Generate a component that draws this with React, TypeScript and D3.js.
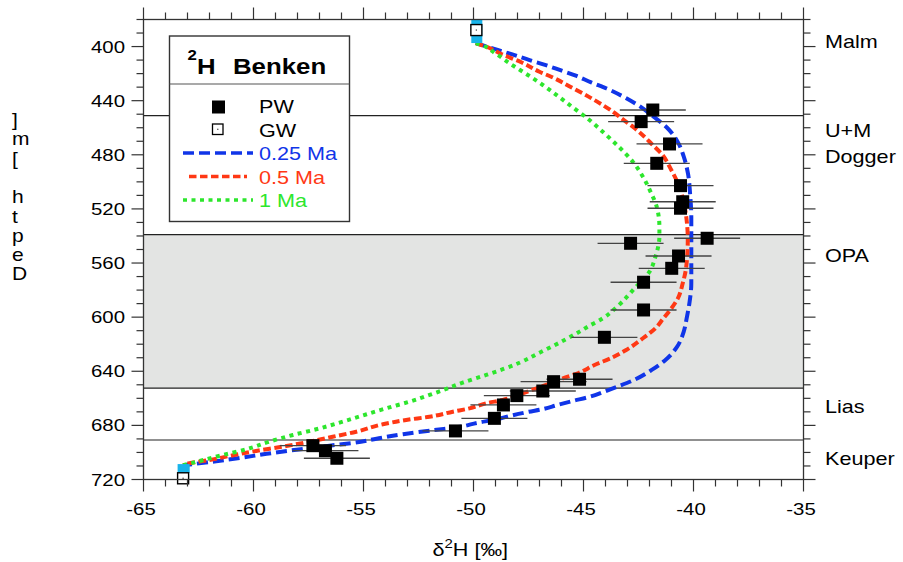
import * as d3 from "d3";

// depth [m] / delta 2H [permil]
const pwDepth = [446.9, 455.5, 472, 486.3, 502.8, 514.7, 519.5, 541.7, 545.4, 554.8, 563.9, 574.2, 594.7, 614.9, 645.9, 647.7, 654.6, 658, 664.9, 674.8, 684.1, 695, 698.7, 704.3];
const pwDelta = [-41.85, -42.38, -41.09, -41.67, -40.59, -40.49, -40.59, -39.38, -42.86, -40.68, -40.99, -42.27, -42.27, -44.05, -45.18, -46.36, -46.85, -48.03, -48.64, -49.05, -50.82, -57.3, -56.73, -56.21];
const PW_ERR = 1.5;

const gwDepth = [387.8, 719.1];
const gwDelta = [-49.87, -63.2];

// boundary condition boxes [depth0, depth1, delta0, delta1]
const bcBoxes = [
  [380, 397.4, -50.1, -49.6],
  [708.6, 715.2, -63.45, -62.9],
];

const curve025 = [
  [397.5, -49.9], [402.5, -48.9], [406, -48.2], [410, -47.45], [413.5, -46.75], [417.5, -46.05],
  [421.5, -45.35], [426.5, -44.65], [431, -43.95], [436.5, -43.25], [443, -42.55], [452, -41.8],
  [460, -41.2], [471, -40.7], [481, -40.45], [494, -40.25], [510, -40.15], [526, -40.1], [543, -40.1],
  [575, -40.1], [589, -40.18], [600, -40.3], [611, -40.45], [622, -40.75], [632, -41.3], [639, -41.9],
  [646, -42.65], [651, -43.4], [655, -44.05], [659, -44.75], [662, -45.5], [665, -46.2], [668, -46.85],
  [670, -47.5], [673, -48.35], [676, -49.1], [678, -49.8], [681, -50.6], [683.5, -51.8], [686.5, -53.2],
  [689.5, -54.3], [693, -55.5], [695, -56.55], [698, -58.05], [701, -59.4], [704, -60.6], [706.5, -61.7],
  [709.5, -63.2],
];

const curve05 = [
  [397.5, -49.9], [400.1, -49.42], [405.5, -48.74], [411.6, -47.83], [418.6, -47], [422.3, -46.47],
  [430.1, -45.56], [438.8, -44.58], [448.1, -43.67], [453.8, -43.21], [459.2, -42.76], [466.6, -42.23],
  [472.8, -41.85], [478.9, -41.47], [491.2, -41.01], [501.1, -40.71], [525.8, -40.33], [543, -40.26],
  [562.7, -40.33], [575, -40.49], [586.1, -40.71], [594.7, -41.06], [601.6, -41.4], [608.2, -41.73],
  [615.6, -42.3], [624.3, -43.06], [629.7, -43.67], [635.4, -44.5], [641.5, -45.26], [645.2, -45.94],
  [650.1, -46.7], [656.3, -47.76], [661.2, -48.67], [663.7, -49.42], [667.4, -50.18], [669.9, -50.94],
  [673.6, -52], [676, -53.06], [679.2, -54.12], [684.7, -55.33], [688.4, -56.4], [692.5, -57.6],
  [695.7, -58.67], [698.9, -59.88], [702.6, -61.09], [705.6, -62], [708, -62.91], [709.5, -63.2],
];

const curve1 = [
  [397.5, -49.9], [398.8, -49.65], [405.5, -48.97], [413.1, -48.29], [421, -47.53], [428.4, -46.85],
  [436.5, -46.17], [444.9, -45.49], [454.3, -44.73], [464.1, -44.05], [474, -43.4], [485.1, -42.76],
  [496.2, -42.3], [508.5, -41.92], [518.4, -41.67], [533.1, -41.55], [540.5, -41.55], [555.3, -41.73],
  [566.4, -42], [578.7, -42.68], [591.8, -43.44], [600.8, -44.12], [607, -44.8], [610.7, -45.18],
  [616.9, -45.86], [626.3, -47], [633.7, -47.91], [638.5, -48.67], [642.7, -49.42], [648.4, -50.49],
  [652.6, -51.17], [657.5, -52], [662.5, -52.91], [667.4, -53.97], [673, -55.1], [678, -56.09],
  [682.9, -57.15], [687.1, -58.21], [692, -59.27], [697.7, -60.33], [701.9, -61.4], [706.3, -62.45],
  [709.5, -63.2],
];

const formationLines = [451, 690.8];
const opaBand = [539, 652.4];
const formationLabels = [
  { name: "Malm", depth: 396.6 },
  { name: "U+M", depth: 461.7 },
  { name: "Dogger", depth: 481.6 },
  { name: "OPA", depth: 554.8 },
  { name: "Lias", depth: 666.4 },
  { name: "Keuper", depth: 704.8 },
];

const xTicks = [-65, -60, -55, -50, -45, -40, -35];
const yTicks = [400, 440, 480, 520, 560, 600, 640, 680, 720];

const series = [
  { label: "0.25 Ma", data: curve025, color: "#1035e8", dash: "11,5" },
  { label: "0.5 Ma", data: curve05, color: "#ff3814", dash: "7.5,3.5" },
  { label: "1 Ma", data: curve1, color: "#2de62d", dash: "4,4.5" },
];

const FONT = "'Liberation Sans', Arial, Helvetica, sans-serif";
const SX = 1.2; // the original lettering is a bit wide

function T({ x, y, size, anchor = "start", fill = "#000", weight = "normal", children }: any) {
  return (
    <text transform={`translate(${x},${y}) scale(${SX},1)`} fontSize={size} textAnchor={anchor} fill={fill} fontWeight={weight}>
      {children}
    </text>
  );
}

export default function App() {
  const W = 903, H = 562;
  const x = d3.scaleLinear().domain([-65, -35]).range([143.5, 803.5]);
  const y = d3.scaleLinear().domain([380, 720]).range([19.5, 479.5]);
  const [x0, x1] = x.range();
  const [y0, y1] = y.range();

  const line = d3
    .line<number[]>()
    .x((d) => x(d[1]))
    .y((d) => y(d[0]))
    .curve(d3.curveMonotoneY);

  const xMinor = d3.range(-65, -34, 1);
  const yMinor = d3.range(380, 721, 10);
  const depthLetters = ["]", "m", "[", "", "h", "t", "p", "e", "D"];

  return (
    <svg width={W} height={H} style={{ position: "absolute", left: 0, top: 0, background: "#fff" }} fontFamily={FONT}>
      {/* OPA band */}
      <rect x={x0} y={y(opaBand[0])} width={x1 - x0} height={y(opaBand[1]) - y(opaBand[0])} fill="#e3e4e3" />
      {[opaBand[0], opaBand[1], ...formationLines].map((d, i) => (
        <line key={i} x1={x0} x2={x1} y1={y(d)} y2={y(d)} stroke="#222" strokeWidth={1.2} />
      ))}

      {/* model curves */}
      {series.map((s) => (
        <path key={s.label} d={line(s.data) || ""} fill="none" stroke={s.color} strokeWidth={4} strokeDasharray={s.dash} />
      ))}

      {bcBoxes.map((b, i) => (
        <rect key={i} x={x(b[2])} y={y(b[0])} width={x(b[3]) - x(b[2])} height={y(b[1]) - y(b[0])} fill="#18b4ea" />
      ))}

      {/* PW data */}
      {pwDepth.map((d, i) => (
        <line key={"e" + i} x1={x(pwDelta[i] - PW_ERR)} x2={x(pwDelta[i] + PW_ERR)} y1={y(d)} y2={y(d)} stroke="#444" strokeWidth={1.3} />
      ))}
      {pwDepth.map((d, i) => (
        <rect key={"p" + i} x={x(pwDelta[i]) - 6.5} y={y(d) - 6.5} width={13} height={13} fill="#000" />
      ))}
      {gwDepth.map((d, i) => (
        <g key={"g" + i}>
          <rect x={x(gwDelta[i]) - 5.5} y={y(d) - 5.5} width={11} height={11} fill="#fff" stroke="#000" strokeWidth={1.4} />
          <rect x={x(gwDelta[i]) - 0.6} y={y(d) - 0.6} width={1.2} height={1.2} fill="#333" />
        </g>
      ))}

      {/* frame */}
      <rect x={x0} y={y0} width={x1 - x0} height={y1 - y0} fill="none" stroke="#333" strokeWidth={1.3} />
      {xMinor.map((v) => {
        const len = xTicks.includes(v) ? 12 : 7;
        return (
          <g key={"xt" + v}>
            <line x1={x(v)} x2={x(v)} y1={y1} y2={y1 + len} stroke="#333" strokeWidth={1.2} />
            <line x1={x(v)} x2={x(v)} y1={y0} y2={y0 - len} stroke="#333" strokeWidth={1.2} />
          </g>
        );
      })}
      {yMinor.map((v) => {
        const len = yTicks.includes(v) ? 12 : 7;
        return (
          <g key={"yt" + v}>
            <line x1={x0} x2={x0 - len} y1={y(v)} y2={y(v)} stroke="#333" strokeWidth={1.2} />
            <line x1={x1} x2={x1 + len} y1={y(v)} y2={y(v)} stroke="#333" strokeWidth={1.2} />
          </g>
        );
      })}
      {xTicks.map((v) => (
        <T key={"xl" + v} x={x(v) - 2.5} y={y1 + 35} size={17} anchor="middle">
          {v}
        </T>
      ))}
      {yTicks.map((v) => (
        <T key={"yl" + v} x={125} y={y(v) + 6} size={17} anchor="end">
          {v}
        </T>
      ))}

      {/* axis titles */}
      <T x={472} y={556} size={18}>
        <tspan textAnchor="start" x={-33}>δ</tspan>
        <tspan dy={-8} fontSize={12.5}>2</tspan>
        <tspan dy={8}>H [‰]</tspan>
      </T>
      {depthLetters.map((c, i) => (
        <T key={"dl" + i} x={12} y={126 + i * 19.3} size={17.5}>
          {c}
        </T>
      ))}

      {/* formation labels */}
      {formationLabels.map((f) => (
        <T key={f.name} x={825} y={y(f.depth) + 6.5} size={18}>
          {f.name}
        </T>
      ))}

      {/* legend */}
      <rect x={169.5} y={36} width={180} height={185.5} fill="#fff" stroke="#333" strokeWidth={1.4} />
      <line x1={169.5} x2={349.5} y1={84} y2={84} stroke="#555" strokeWidth={1.2} />
      <T x={187.5} y={60} size={14} weight="bold">2</T>
      <T x={197} y={73.5} size={21.5} weight="bold">H</T>
      <T x={233} y={73.5} size={21.5} weight="bold">Benken</T>
      <rect x={212} y={100.5} width={13} height={13} fill="#000" />
      <T x={259} y={113} size={18}>PW</T>
      <rect x={212.5} y={124} width={10.5} height={10.5} fill="#fff" stroke="#000" strokeWidth={1.3} />
      <rect x={217.2} y={128.7} width={1.2} height={1.2} fill="#333" />
      <T x={259} y={136.5} size={18}>GW</T>
      {series.map((s, i) => (
        <g key={"lg" + s.label}>
          <line x1={i === 1 ? 189 : 183} x2={i === 1 ? 247 : 253} y1={153 + i * 23.5} y2={153 + i * 23.5} stroke={s.color} strokeWidth={3.5} strokeDasharray={s.dash} />
          <T x={259} y={160 + i * 23.5} size={18} fill={s.color}>
            {s.label}
          </T>
        </g>
      ))}
    </svg>
  );
}
